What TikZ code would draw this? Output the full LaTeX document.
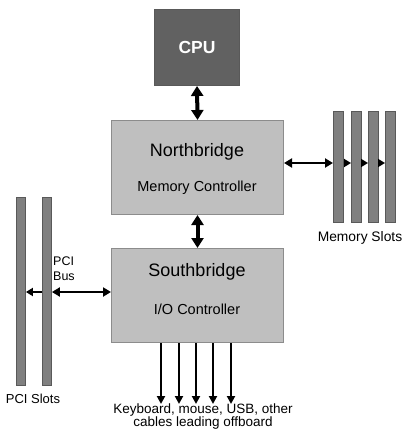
\documentclass[tikz,border=0pt]{standalone}
\usepackage{fontspec}
\setmainfont{Liberation Sans}
\usetikzlibrary{arrows.meta}
\begin{document}
\begin{tikzpicture}[x=1pt,y=-1pt,
  chip/.style={draw=black!45,line width=1pt,fill=black!25,inner sep=0pt,anchor=north west},
  cpubox/.style={draw=black!65,line width=1pt,fill=black!62,inner sep=0pt,anchor=north west},
  slot/.style={draw=black!65,line width=0.9pt,fill=black!50,inner sep=0pt,anchor=north west},
  bigarrow/.style={line width=4pt,{Triangle[length=10pt,width=12pt]}-{Triangle[length=10pt,width=12pt]}},
  midarrow/.style={line width=2.5pt,{Triangle[length=8pt,width=9pt]}-{Triangle[length=8pt,width=9pt]}},
  headonly/.style={line width=2.5pt,-{Triangle[length=7pt,width=8pt]}},
  outarrow/.style={line width=2pt,-{Triangle[length=8pt,width=8pt]}},
  lbl/.style={inner sep=0pt,font=\fontsize{13.5}{15}\selectfont}
]
\useasboundingbox (0,0) rectangle (403,433);
% boxes
\node[cpubox,minimum width=85pt,minimum height=76pt] (cpu) at (154,9) {};
\node[text=white,font=\bfseries\fontsize{17.5}{19}\selectfont] (cputxt) at (cpu.center) {CPU};
\node[chip,minimum width=172pt,minimum height=94pt] (nb) at (111,120) {};
\node[font=\fontsize{18}{20}\selectfont] (nbtxt) at (197,152) {Northbridge};
\node[lbl,font=\fontsize{14.5}{16}\selectfont] (nbsub) at (197,188) {Memory Controller};
\node[chip,minimum width=172pt,minimum height=94pt] (sb) at (111,248) {};
\node[font=\fontsize{18}{20}\selectfont] (sbtxt) at (197,272) {Southbridge};
\node[lbl,font=\fontsize{14.5}{16}\selectfont] (sbsub) at (197,309) {I/O Controller};
% memory slots
\node[slot,minimum width=10pt,minimum height=111pt] (m1) at (333,111) {};
\node[slot,minimum width=10pt,minimum height=111pt] (m2) at (351,111) {};
\node[slot,minimum width=10pt,minimum height=111pt] (m3) at (368,111) {};
\node[slot,minimum width=10pt,minimum height=111pt] (m4) at (385,111) {};
\node[lbl,font=\fontsize{13.8}{15}\selectfont] (memlbl) at (360,238) {Memory Slots};
% pci slots
\node[slot,minimum width=9pt,minimum height=188pt] (p1) at (16,197) {};
\node[slot,minimum width=9pt,minimum height=188pt] (p2) at (42,197) {};
\node[lbl,font=\fontsize{13}{15}\selectfont] (pcilbl) at (33,399) {PCI Slots};
\node[lbl,align=left,anchor=north west,font=\fontsize{12.5}{15}\selectfont] (pcibus) at (53,257) {PCI\\Bus};
% connectors
\draw[bigarrow] (cpu.south) -- (nb.north);
\draw[bigarrow] (nb.south) -- (sb.north);
\coordinate (my) at (0,163);
\draw[midarrow] (nb.east |- my) -- (m1.west |- my);
\draw[headonly] (m1.east |- my) -- (m2.west |- my);
\draw[headonly] (m2.east |- my) -- (m3.west |- my);
\draw[headonly] (m3.east |- my) -- (m4.west |- my);
\coordinate (py) at (0,292);
\draw[midarrow] (p2.east |- py) -- (sb.west |- py);
\draw[headonly] (p2.west |- py) -- (p1.east |- py);
% outgoing cables
\foreach \i/\x in {1/161,2/179,3/196,4/213,5/231}{
  \coordinate (c\i) at (\x,404);
  \draw[outarrow] (sb.south -| c\i) -- (c\i);
}
\node[lbl,align=center,font=\fontsize{13.5}{13}\selectfont] (cables) at (203,417) {Keyboard, mouse, USB, other\\cables leading offboard};
\end{tikzpicture}
\end{document}
